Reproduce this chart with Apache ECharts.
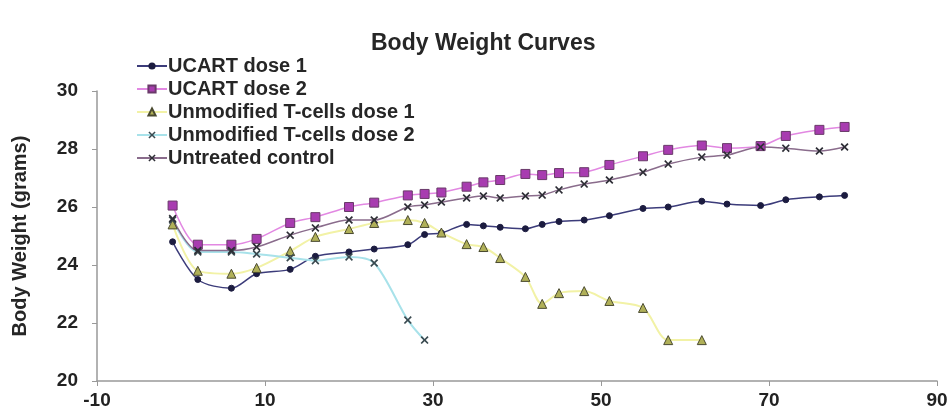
<!DOCTYPE html>
<html>
<head>
<meta charset="utf-8">
<script src="https://cdn.jsdelivr.net/npm/echarts@6/dist/echarts.min.js"></script>
<style>html,body{margin:0;padding:0;background:#fff}#c{width:951px;height:413px}</style>
</head>
<body>
<div id="c"></div>
<script>
const days = [-1,2,6,9,13,16,20,23,27,29,31,34,36,38,41,43,45,48,51,55,58,62,65,69,72,76,79];
const ucart1 = [24.8,23.5,23.2,23.7,23.85,24.3,24.45,24.55,24.7,25.05,25.1,25.4,25.35,25.3,25.25,25.4,25.5,25.55,25.7,25.95,26.0,26.2,26.1,26.05,26.25,26.35,26.4];
const ucart2 = [26.05,24.7,24.7,24.9,25.45,25.65,26.0,26.15,26.4,26.45,26.5,26.7,26.85,26.93,27.14,27.1,27.17,27.2,27.45,27.75,27.97,28.12,28.03,28.1,28.45,28.66,28.76];
const unmod1Days = [-1,2,6,9,13,16,20,23,27,29,31,34,36,38,41,43,45,48,51,55,58,62];
const unmod1 = [25.4,23.8,23.7,23.9,24.48,24.97,25.24,25.45,25.55,25.45,25.12,24.72,24.62,24.24,23.59,22.66,23.03,23.1,22.76,22.52,21.41,21.41];
const unmod2Days = [-1,2,6,9,13,16,20,23,27,29];
const unmod2 = [25.55,24.45,24.45,24.38,24.25,24.15,24.28,24.07,22.1,21.41];
const untreated = [25.6,24.5,24.5,24.62,25.03,25.28,25.55,25.55,26.0,26.07,26.17,26.31,26.38,26.31,26.38,26.41,26.59,26.79,26.93,27.2,27.48,27.72,27.79,28.07,28.03,27.93,28.07];
const xTicks = [-10,10,30,50,70,90];
const yTicks = [20,22,24,26,28,30];

const pair = (xs, ys) => xs.map((x, i) => [x, ys[i]]);
const X = 'path://M0,1.5 L1.5,0 L5,3.5 L8.5,0 L10,1.5 L6.5,5 L10,8.5 L8.5,10 L5,6.5 L1.5,10 L0,8.5 L3.5,5 Z';
const font = 'Liberation Sans, Arial, sans-serif';

const chart = echarts.init(document.getElementById('c'));
chart.setOption({
  animation: false,
  title: {
    text: 'Body Weight Curves', left: 366, top: 27,
    textStyle: { fontFamily: font, fontSize: 23, fontWeight: 'bold', color: '#262626' }
  },
  legend: {
    orient: 'vertical', left: 131, top: 51,
    itemWidth: 30, itemHeight: 9, itemGap: 3,
    textStyle: { fontFamily: font, fontSize: 20, fontWeight: 'bold', color: '#262626', lineHeight: 20, padding: [0,0,0,-4] },
    data: ['UCART dose 1','UCART dose 2','Unmodified T-cells dose 1','Unmodified T-cells dose 2','Untreated control']
  },
  grid: { left: 97, right: 14, top: 91, bottom: 32 },
  xAxis: {
    type: 'value', min: -10, max: 90, interval: 20,
    splitLine: { show: false },
    axisLine: { onZero: false, lineStyle: { color: '#999', width: 1.5 } },
    axisTick: { show: true, length: 5, lineStyle: { color: '#999' } },
    axisLabel: { margin: 10, fontFamily: font, fontSize: 19, fontWeight: 'bold', color: '#222',
      formatter: v => xTicks.includes(v) ? String(v) : '' }
  },
  yAxis: {
    type: 'value', min: 20, max: 30, interval: 2,
    name: 'Body Weight (grams)', nameLocation: 'middle', nameGap: 67, nameRotate: 90,
    nameTextStyle: { fontFamily: font, fontSize: 20, fontWeight: 'bold', color: '#262626' },
    splitLine: { show: false },
    axisLine: { show: true, onZero: false, lineStyle: { color: '#999', width: 1.5 } },
    axisTick: { show: true, length: 5, lineStyle: { color: '#999' } },
    axisLabel: { margin: 19, fontFamily: font, fontSize: 19, fontWeight: 'bold', color: '#222',
      formatter: v => yTicks.includes(v) ? String(v) : '' }
  },
  series: [
    { name: 'UCART dose 1', type: 'line', smooth: 0.3, data: pair(days, ucart1),
      symbol: 'circle', symbolSize: 6,
      lineStyle: { color: '#3c3c7a', width: 1.5 },
      itemStyle: { color: '#1c1c40', borderColor: '#1c1c40' } },
    { name: 'UCART dose 2', type: 'line', smooth: 0.3, data: pair(days, ucart2),
      symbol: 'rect', symbolSize: 9,
      lineStyle: { color: '#e288e2', width: 1.5 },
      itemStyle: { color: '#a83cb0', borderColor: '#6a3a6a', borderWidth: 1 } },
    { name: 'Unmodified T-cells dose 1', type: 'line', smooth: 0.3, data: pair(unmod1Days, unmod1),
      symbol: 'triangle', symbolSize: 9,
      lineStyle: { color: '#f2f2a6', width: 2 },
      itemStyle: { color: '#b0b058', borderColor: '#4a4a30', borderWidth: 1 } },
    { name: 'Unmodified T-cells dose 2', type: 'line', smooth: 0.3, data: pair(unmod2Days, unmod2),
      symbol: X, symbolSize: 8,
      lineStyle: { color: '#a8e2ea', width: 2 },
      itemStyle: { color: '#3a4a50' } },
    { name: 'Untreated control', type: 'line', smooth: 0.3, data: pair(days, untreated),
      symbol: X, symbolSize: 8,
      lineStyle: { color: '#8a6c8c', width: 1.5 },
      itemStyle: { color: '#2e2e36' } }
  ]
});
</script>
</body>
</html>
